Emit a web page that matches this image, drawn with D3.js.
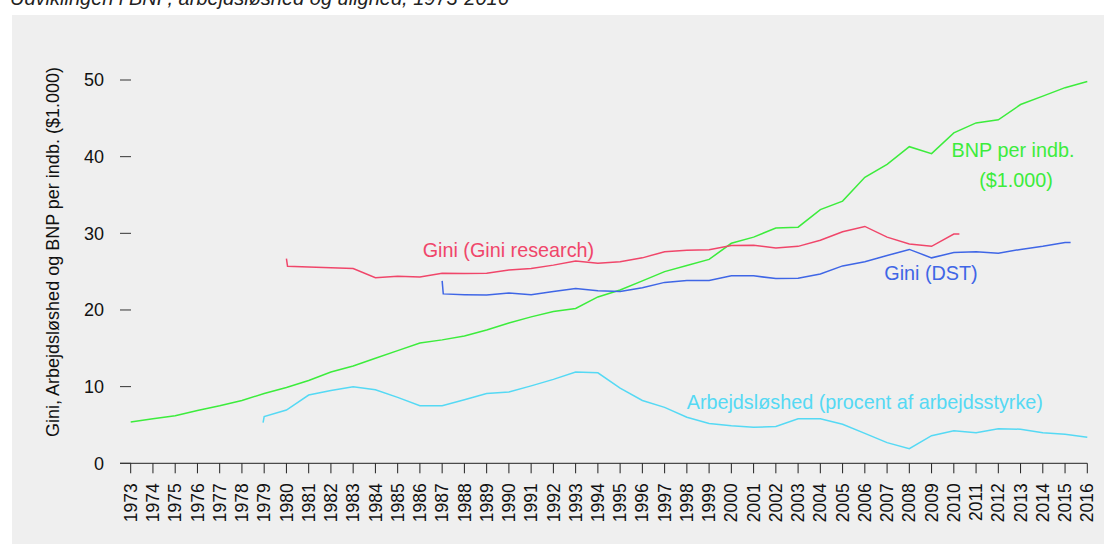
<!DOCTYPE html>
<html>
<head>
<meta charset="utf-8">
<script src="https://cdn.jsdelivr.net/npm/d3@7"></script>
<style>
  html, body { margin: 0; padding: 0; background: #fff; }
  svg { display: block; font-family: "Liberation Sans", Arial, Helvetica, sans-serif; }
</style>
</head>
<body>
<div id="chart"></div>
<script>
// tick years on the x axis
const tickYears = [1973, 1974, 1975, 1976, 1977, 1978, 1979, 1980, 1981, 1982, 1983, 1984, 1985,
  1986, 1987, 1988, 1989, 1990, 1991, 1992, 1993, 1994, 1995, 1996, 1997, 1998, 1999, 2000,
  2001, 2002, 2003, 2004, 2005, 2006, 2007, 2008, 2009, 2010, 2011, 2012, 2013, 2014, 2015, 2016];
const yTicks = [0, 10, 20, 30, 40, 50];

// BNP per indb. ($1.000)
const bnpYears = tickYears;
const bnpValues = [5.4, 5.8, 6.2, 6.9, 7.5, 8.2, 9.1, 9.9, 10.8, 11.9, 12.7, 13.7, 14.7, 15.7,
  16.1, 16.6, 17.4, 18.3, 19.1, 19.8, 20.2, 21.7, 22.6, 23.8, 25.0, 25.8, 26.6, 28.7, 29.5,
  30.7, 30.8, 33.1, 34.2, 37.3, 39.0, 41.3, 40.4, 43.1, 44.4, 44.8, 46.8, 47.9, 49.0, 49.8];

// Gini (Gini research)
const giniResYears = [1980, 1980.05, 1981, 1982, 1983, 1984, 1985, 1986, 1987, 1988, 1989, 1990,
  1991, 1992, 1993, 1994, 1995, 1996, 1997, 1998, 1999, 2000, 2001, 2002, 2003, 2004, 2005,
  2006, 2007, 2008, 2009, 2010, 2010.25];
const giniResValues = [26.7, 25.7, 25.6, 25.5, 25.4, 24.2, 24.4, 24.3, 24.8, 24.75, 24.8, 25.2,
  25.4, 25.85, 26.4, 26.1, 26.3, 26.8, 27.6, 27.8, 27.85, 28.4, 28.45, 28.1, 28.3, 29.1, 30.2,
  30.9, 29.5, 28.6, 28.3, 29.9, 29.9];

// Gini (DST)
const giniDstYears = [1987, 1987.05, 1988, 1989, 1990, 1991, 1992, 1993, 1994, 1995, 1996, 1997,
  1998, 1999, 2000, 2001, 2002, 2003, 2004, 2005, 2006, 2007, 2008, 2009, 2010, 2011, 2012,
  2013, 2014, 2015, 2015.25];
const giniDstValues = [23.8, 22.1, 22.0, 21.95, 22.2, 22.0, 22.4, 22.8, 22.5, 22.4, 22.9, 23.6,
  23.85, 23.85, 24.45, 24.45, 24.1, 24.15, 24.7, 25.75, 26.3, 27.1, 27.9, 26.8, 27.5, 27.6,
  27.4, 27.9, 28.3, 28.8, 28.8];

// Arbejdsløshed (procent af arbejdsstyrke)
const unempYears = [1978.95, 1979, 1980, 1981, 1982, 1983, 1984, 1985, 1986, 1987, 1988, 1989,
  1990, 1991, 1992, 1993, 1994, 1995, 1996, 1997, 1998, 1999, 2000, 2001, 2002, 2003, 2004,
  2005, 2006, 2007, 2008, 2009, 2010, 2011, 2012, 2013, 2014, 2015, 2016];
const unempValues = [5.3, 6.1, 6.95, 8.9, 9.5, 10.0, 9.6, 8.6, 7.5, 7.5, 8.3, 9.1, 9.3, 10.1,
  10.95, 11.9, 11.8, 9.8, 8.2, 7.3, 6.0, 5.2, 4.9, 4.7, 4.8, 5.8, 5.8, 5.1, 3.9, 2.7, 1.9, 3.6,
  4.25, 4.0, 4.5, 4.45, 4.0, 3.8, 3.4];

const W = 1104, H = 544;
const svg = d3.select("#chart").append("svg")
  .attr("width", W)
  .attr("height", H);

// grey panel
svg.append("rect")
  .attr("x", 12).attr("y", 15)
  .attr("width", W - 12).attr("height", H - 15)
  .attr("fill", "#efefef");

// title, cut off at the top like the original
svg.append("text")
  .attr("x", 10).attr("y", 5)
  .attr("font-size", 20)
  .attr("font-style", "italic")
  .attr("fill", "#222")
  .text("Udviklingen i BNP, arbejdsløshed og ulighed, 1973-2016");

const x = d3.scaleLinear().domain([1973, 2016]).range([130.7, 1087.3]);
const y = d3.scaleLinear().domain([0, 50]).range([463.3, 80]);

// x axis
const xAxis = svg.append("g")
  .attr("transform", "translate(0," + y(0) + ")");
xAxis.append("line")
  .attr("x1", 120).attr("x2", x(2016))
  .attr("stroke", "#222").attr("stroke-width", 1);
xAxis.selectAll("line.tick")
  .data(tickYears)
  .enter().append("line")
  .attr("class", "tick")
  .attr("x1", d => x(d)).attr("x2", d => x(d))
  .attr("y1", 0).attr("y2", 10)
  .attr("stroke", "#222");
xAxis.selectAll("text")
  .data(tickYears)
  .enter().append("text")
  .attr("transform", d => "translate(" + x(d) + ",20) rotate(-90)")
  .attr("text-anchor", "end")
  .attr("dy", "0.35em")
  .attr("font-size", 17.5)
  .attr("fill", "#111")
  .text(d => d);

// y axis: ticks and labels only
const yAxis = svg.append("g");
yAxis.selectAll("line")
  .data(yTicks)
  .enter().append("line")
  .attr("x1", 120).attr("x2", 131)
  .attr("y1", d => y(d)).attr("y2", d => y(d))
  .attr("stroke", "#333");
yAxis.selectAll("text")
  .data(yTicks)
  .enter().append("text")
  .attr("x", 104)
  .attr("y", d => y(d))
  .attr("dy", "0.35em")
  .attr("text-anchor", "end")
  .attr("font-size", 18)
  .attr("fill", "#111")
  .text(d => d);

svg.append("text")
  .attr("transform", "translate(59,252) rotate(-90)")
  .attr("text-anchor", "middle")
  .attr("font-size", 18)
  .attr("fill", "#111")
  .text("Gini, Arbejdsløshed og BNP per indb. ($1.000)");

const line = d3.line()
  .x(d => x(d[0]))
  .y(d => y(d[1]));

const series = [
  { years: bnpYears, values: bnpValues, color: "#3cec3c" },
  { years: giniResYears, values: giniResValues, color: "#f0466a" },
  { years: giniDstYears, values: giniDstValues, color: "#3f66e6" },
  { years: unempYears, values: unempValues, color: "#55d9f4" }
];

series.forEach(s => {
  svg.append("path")
    .datum(d3.zip(s.years, s.values))
    .attr("d", line)
    .attr("fill", "none")
    .attr("stroke", s.color)
    .attr("stroke-width", 1.5);
});

// direct labels
const labels = [
  { text: "Gini (Gini research)", x: 422.7, y: 256.7, color: "#f0466a", anchor: "start" },
  { text: "Gini (DST)", x: 884.3, y: 280, color: "#3f66e6", anchor: "start" },
  { text: "BNP per indb.", x: 1013, y: 157.3, color: "#3cec3c", anchor: "middle" },
  { text: "($1.000)", x: 1016, y: 186.7, color: "#3cec3c", anchor: "middle" },
  { text: "Arbejdsløshed (procent af arbejdsstyrke)", x: 686.7, y: 409, color: "#55d9f4", anchor: "start" }
];

svg.selectAll("text.label")
  .data(labels)
  .enter().append("text")
  .attr("class", "label")
  .attr("x", d => d.x).attr("y", d => d.y)
  .attr("text-anchor", d => d.anchor)
  .attr("font-size", 19.8)
  .attr("fill", d => d.color)
  .text(d => d.text);
</script>
</body>
</html>
